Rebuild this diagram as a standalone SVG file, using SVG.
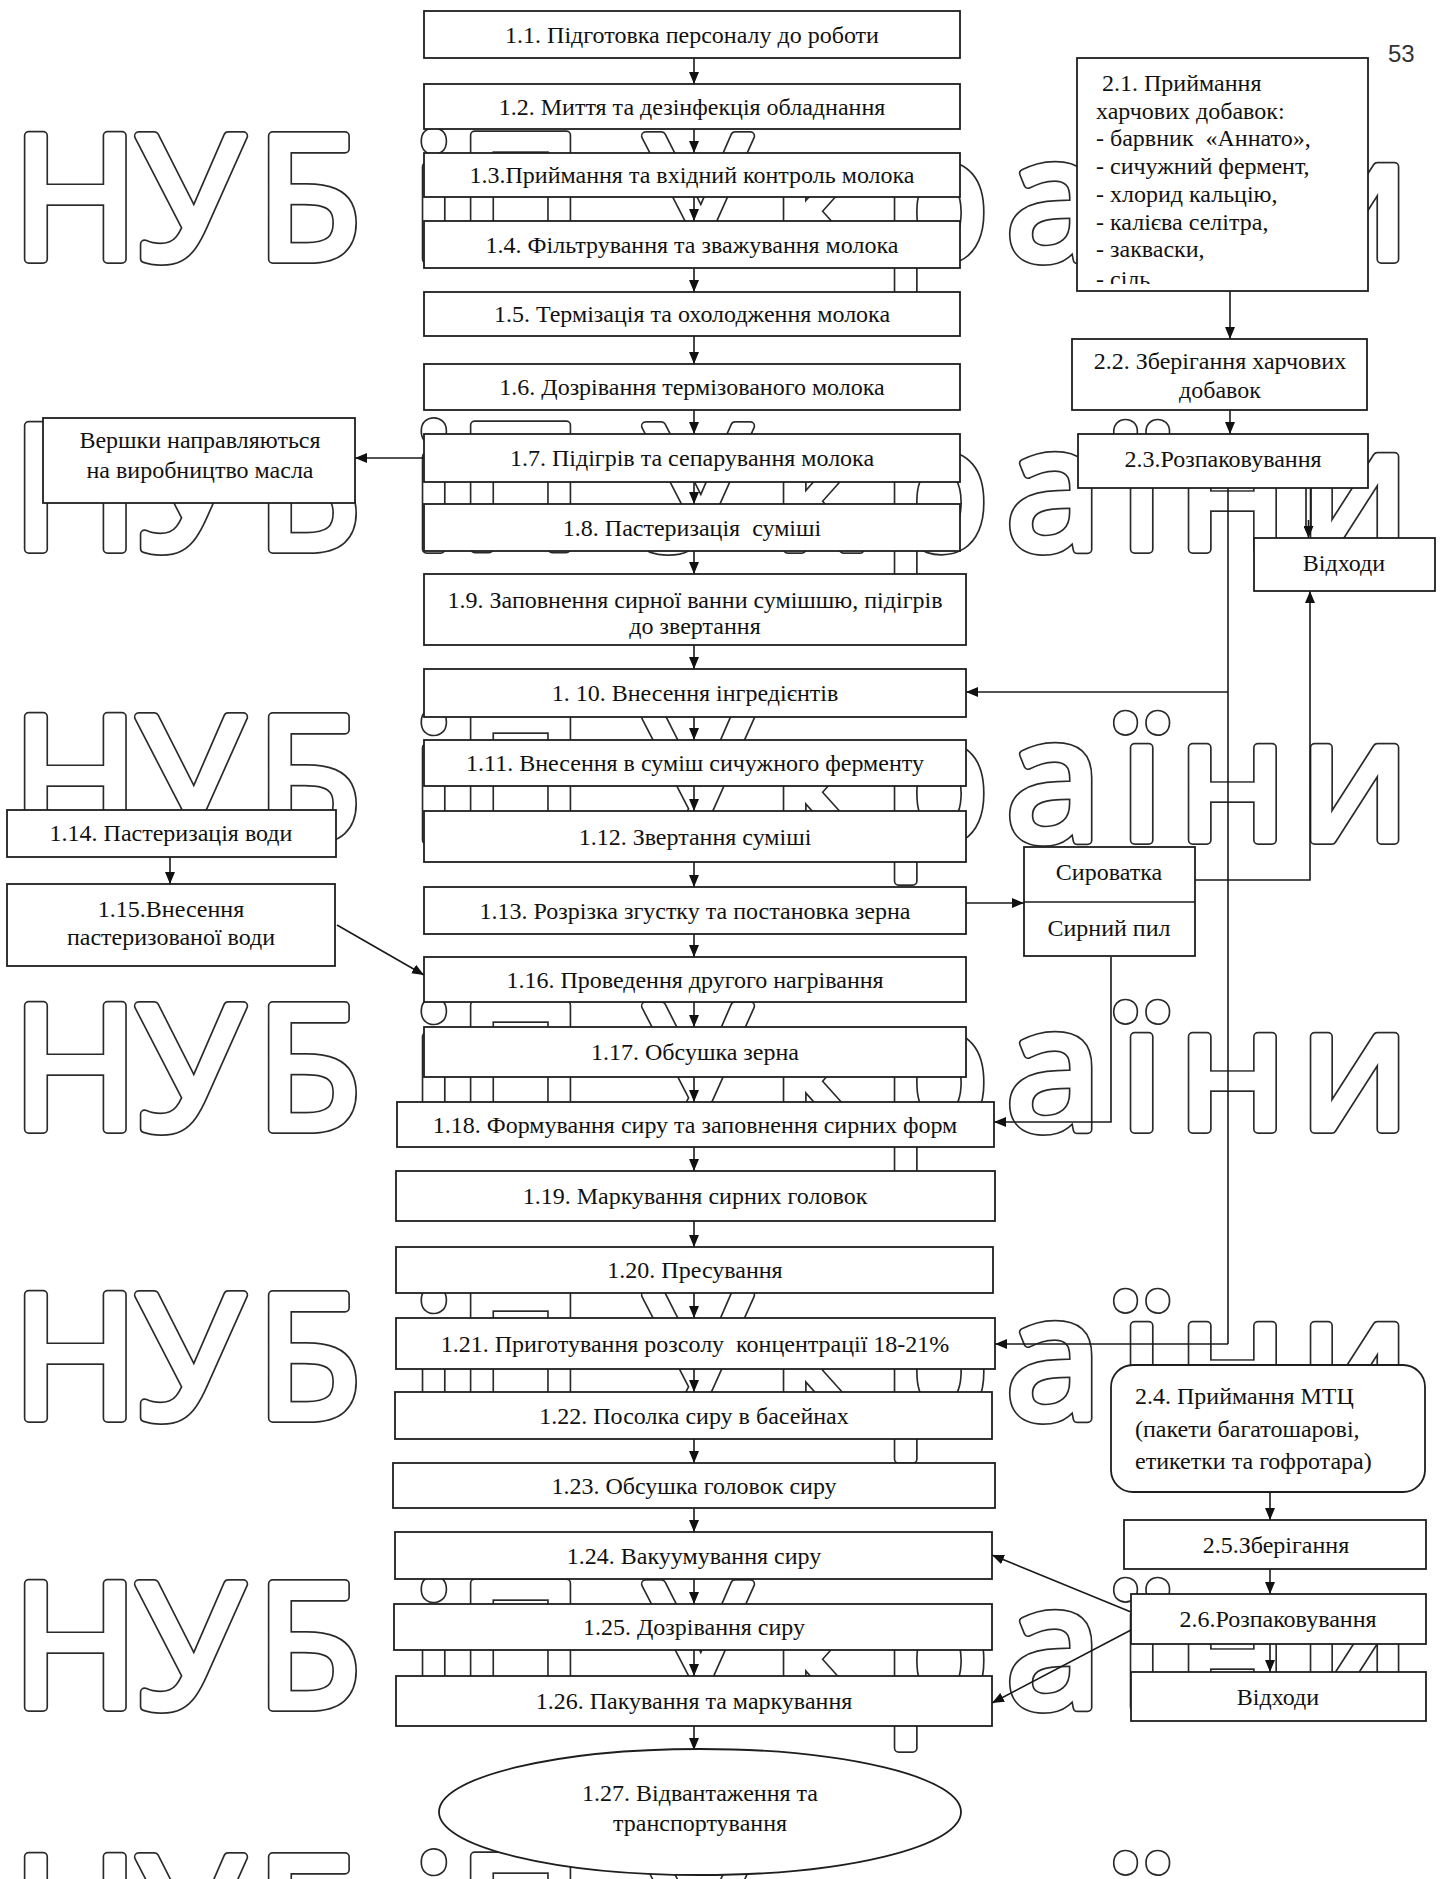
<svg xmlns="http://www.w3.org/2000/svg" width="1445" height="1879" viewBox="0 0 1445 1879">
<style>
.wm{font-family:"Open Sans","Noto Sans",sans-serif;font-weight:normal;font-size:172px}
.wmd{fill:#2a2a2a;stroke:#2a2a2a;stroke-width:10;stroke-linejoin:round}
.wmw{fill:#fff;stroke:#fff;stroke-width:6.6;stroke-linejoin:round}
.b{fill:#fff;stroke:#1e1e1e;stroke-width:1.8}
.t{font-family:"Liberation Serif","Times New Roman",serif;font-size:24px;fill:#111;text-anchor:middle}
.tl{font-family:"Liberation Serif","Times New Roman",serif;font-size:24px;fill:#111}
.c{stroke:#1a1a1a;stroke-width:1.6;fill:none}
.a{stroke:#1a1a1a;stroke-width:1.6;fill:none;marker-end:url(#ah)}
</style>
<defs>
<marker id="ah" markerWidth="12" markerHeight="10" refX="12" refY="5" orient="auto" markerUnits="userSpaceOnUse"><path d="M0,0 L12,5 L0,10 z" fill="#111"/></marker>
<clipPath id="clip21"><rect x="1077" y="58" width="291" height="226"/></clipPath>
</defs>
<rect width="1445" height="1879" fill="#fff"/>
<g id="watermark">
<g class="wmd"><g id="wmrows">
<text class="wm" x="12 137 256 412 458 600 644 773 884 1006 1120 1178 1300" y="259">НУБіП України</text>
<text class="wm" x="12 137 256 412 458 600 644 773 884 1006 1120 1178 1300" y="549">НУБіП України</text>
<text class="wm" x="12 137 256 412 458 600 644 773 884 1006 1120 1178 1300" y="840">НУБіП України</text>
<text class="wm" x="12 137 256 412 458 600 644 773 884 1006 1120 1178 1300" y="1129">НУБіП України</text>
<text class="wm" x="12 137 256 412 458 600 644 773 884 1006 1120 1178 1300" y="1418">НУБіП України</text>
<text class="wm" x="12 137 256 412 458 600 644 773 884 1006 1120 1178 1300" y="1707">НУБіП України</text>
<text class="wm" x="12 137 256 412 458 600 644 773 884 1006 1120 1178 1300" y="1980">НУБіП України</text>
</g></g>
<use href="#wmrows" class="wmw"/>
</g>
<text x="1388" y="62" font-family="'Liberation Sans',Arial,sans-serif" font-size="24" fill="#333">53</text>
<g id="connectors">
<line class="a" x1="694" y1="58" x2="694" y2="84"/>
<line class="a" x1="694" y1="129" x2="694" y2="153"/>
<line class="a" x1="694" y1="197" x2="694" y2="221"/>
<line class="a" x1="694" y1="268" x2="694" y2="292"/>
<line class="a" x1="694" y1="336" x2="694" y2="364"/>
<line class="a" x1="694" y1="410" x2="694" y2="434"/>
<line class="a" x1="694" y1="482" x2="694" y2="504"/>
<line class="a" x1="694" y1="551" x2="694" y2="574"/>
<line class="a" x1="694" y1="645" x2="694" y2="669"/>
<line class="a" x1="694" y1="717" x2="694" y2="740"/>
<line class="a" x1="694" y1="786" x2="694" y2="811"/>
<line class="a" x1="694" y1="862" x2="694" y2="887"/>
<line class="a" x1="694" y1="934" x2="694" y2="957"/>
<line class="a" x1="694" y1="1002" x2="694" y2="1027"/>
<line class="a" x1="694" y1="1077" x2="694" y2="1102"/>
<line class="a" x1="694" y1="1147" x2="694" y2="1171"/>
<line class="a" x1="694" y1="1221" x2="694" y2="1247"/>
<line class="a" x1="694" y1="1293" x2="694" y2="1318"/>
<line class="a" x1="694" y1="1369" x2="694" y2="1392"/>
<line class="a" x1="694" y1="1439" x2="694" y2="1463"/>
<line class="a" x1="694" y1="1508" x2="694" y2="1532"/>
<line class="a" x1="694" y1="1579" x2="694" y2="1604"/>
<line class="a" x1="694" y1="1650" x2="694" y2="1676"/>
<line class="a" x1="694" y1="1726" x2="694" y2="1750"/>
<line class="a" x1="424" y1="458" x2="355" y2="458"/>
<line class="a" x1="170" y1="857" x2="170" y2="884"/>
<line class="a" x1="337" y1="925" x2="424" y2="975"/>
<line class="a" x1="1230" y1="291" x2="1230" y2="339"/>
<line class="a" x1="1230" y1="410" x2="1230" y2="434"/>
<line class="c" x1="1306" y1="488" x2="1306" y2="530"/>
<line class="c" x1="1311" y1="488" x2="1311" y2="530"/>
<line class="a" x1="1308.5" y1="520" x2="1308.5" y2="538"/>
<polyline class="c" points="1228,488 1228,1344"/>
<line class="a" x1="1228" y1="692" x2="966" y2="692"/>
<line class="a" x1="1228" y1="1344" x2="995" y2="1344"/>
<line class="a" x1="966" y1="903" x2="1024" y2="903"/>
<polyline class="a" points="1193,880 1310,880 1310,591"/>
<polyline class="a" points="1111,957 1111,1122 994,1122"/>
<line class="a" x1="1270" y1="1492" x2="1270" y2="1520"/>
<line class="a" x1="1270" y1="1569" x2="1270" y2="1594"/>
<line class="a" x1="1270" y1="1644" x2="1270" y2="1672"/>
<line class="a" x1="1131" y1="1612" x2="992" y2="1555"/>
<line class="a" x1="1131" y1="1630" x2="992" y2="1703"/>
</g>
<g id="n1_1"><rect class="b" x="424" y="11" width="536" height="47"/><text class="t" x="692" y="42.5">1.1. Підготовка персоналу до роботи</text></g>
<g id="n1_2"><rect class="b" x="424" y="84" width="536" height="45"/><text class="t" x="692" y="114.5">1.2. Миття та дезінфекція обладнання</text></g>
<g id="n1_3"><rect class="b" x="424" y="153" width="536" height="44"/><text class="t" x="692" y="183">1.3.Приймання та вхідний контроль молока</text></g>
<g id="n1_4"><rect class="b" x="424" y="221" width="536" height="47"/><text class="t" x="692" y="252.5">1.4. Фільтрування та зважування молока</text></g>
<g id="n1_5"><rect class="b" x="424" y="292" width="536" height="44"/><text class="t" x="692" y="322">1.5. Термізація та охолодження молока</text></g>
<g id="n1_6"><rect class="b" x="424" y="364" width="536" height="46"/><text class="t" x="692" y="395">1.6. Дозрівання термізованого молока</text></g>
<g id="n1_7"><rect class="b" x="424" y="434" width="536" height="48"/><text class="t" x="692" y="466">1.7. Підігрів та сепарування молока</text></g>
<g id="n1_8"><rect class="b" x="424" y="504" width="536" height="47"/><text class="t" x="692" y="535.5">1.8. Пастеризація &#160;суміші</text></g>
<g id="n1_9"><rect class="b" x="424" y="574" width="542" height="71"/><text class="t" x="695" y="608">1.9. Заповнення сирної ванни сумішшю, підігрів</text><text class="t" x="695" y="634">до звертання</text></g>
<g id="n1_10"><rect class="b" x="424" y="669" width="542" height="48"/><text class="t" x="695" y="701">1. 10. Внесення інгредієнтів</text></g>
<g id="n1_11"><rect class="b" x="424" y="740" width="542" height="46"/><text class="t" x="695" y="771">1.11. Внесення в суміш сичужного ферменту</text></g>
<g id="n1_12"><rect class="b" x="424" y="811" width="542" height="51"/><text class="t" x="695" y="844.5">1.12. Звертання суміші</text></g>
<g id="n1_13"><rect class="b" x="424" y="887" width="542" height="47"/><text class="t" x="695" y="918.5">1.13. Розрізка згустку та постановка зерна</text></g>
<g id="n1_16"><rect class="b" x="424" y="957" width="542" height="45"/><text class="t" x="695" y="987.5">1.16. Проведення другого нагрівання</text></g>
<g id="n1_17"><rect class="b" x="424" y="1027" width="542" height="50"/><text class="t" x="695" y="1060">1.17. Обсушка зерна</text></g>
<g id="n1_18"><rect class="b" x="397" y="1102" width="597" height="45"/><text class="t" x="695" y="1132.5">1.18. Формування сиру та заповнення сирних форм</text></g>
<g id="n1_19"><rect class="b" x="396" y="1171" width="599" height="50"/><text class="t" x="695" y="1204">1.19. Маркування сирних головок</text></g>
<g id="n1_20"><rect class="b" x="396" y="1247" width="597" height="46"/><text class="t" x="695" y="1278">1.20. Пресування</text></g>
<g id="n1_21"><rect class="b" x="396" y="1318" width="599" height="51"/><text class="t" x="695" y="1351.5">1.21. Приготування розсолу &#160;концентрації 18-21%</text></g>
<g id="n1_22"><rect class="b" x="395" y="1392" width="597" height="47"/><text class="t" x="694" y="1423.5">1.22. Посолка сиру в басейнах</text></g>
<g id="n1_23"><rect class="b" x="393" y="1463" width="602" height="45"/><text class="t" x="694" y="1493.5">1.23. Обсушка головок сиру</text></g>
<g id="n1_24"><rect class="b" x="395" y="1532" width="597" height="47"/><text class="t" x="694" y="1563.5">1.24. Вакуумування сиру</text></g>
<g id="n1_25"><rect class="b" x="394" y="1604" width="598" height="46"/><text class="t" x="694" y="1635">1.25. Дозрівання сиру</text></g>
<g id="n1_26"><rect class="b" x="396" y="1676" width="596" height="50"/><text class="t" x="694" y="1709">1.26. Пакування та маркування</text></g>
<g id="n1_27"><ellipse class="b" cx="700" cy="1812" rx="261" ry="63"/><text class="t" x="700" y="1801">1.27. Відвантаження та</text><text class="t" x="700" y="1831">транспортування</text></g>
<g id="n_vershky"><rect class="b" x="43" y="418" width="312" height="85"/><text class="t" x="200" y="448">Вершки направляються</text><text class="t" x="200" y="478">на виробництво масла</text></g>
<g id="n1_14"><rect class="b" x="7" y="810" width="329" height="47"/><text class="t" x="171" y="841">1.14. Пастеризація води</text></g>
<g id="n1_15"><rect class="b" x="7" y="884" width="328" height="82"/><text class="t" x="171" y="917">1.15.Внесення</text><text class="t" x="171" y="945">пастеризованої води</text></g>
<g id="n2_1"><rect class="b" x="1077" y="58" width="291" height="233"/><g clip-path="url(#clip21)"><text class="tl" x="1096" y="91">&#160;2.1. Приймання</text><text class="tl" x="1096" y="119">харчових добавок:</text><text class="tl" x="1096" y="146">- барвник &#160;«Аннато»,</text><text class="tl" x="1096" y="174">- сичужний фермент,</text><text class="tl" x="1096" y="202">- хлорид кальцію,</text><text class="tl" x="1096" y="230">- калієва селітра,</text><text class="tl" x="1096" y="257">- закваски,</text><text class="tl" x="1096" y="287">- сіль</text></g></g>
<g id="n2_2"><rect class="b" x="1072" y="339" width="295" height="71"/><text class="t" x="1220" y="369">2.2. Зберігання харчових</text><text class="t" x="1220" y="398">добавок</text></g>
<g id="n2_3"><rect class="b" x="1078" y="434" width="290" height="54"/><text class="t" x="1223" y="467">2.3.Розпаковування</text></g>
<g id="n_vidhody1"><rect class="b" x="1254" y="538" width="181" height="53"/><text class="t" x="1344" y="571">Відходи</text></g>
<g id="n_syrovatka"><rect class="b" x="1024" y="847" width="171" height="109"/><line class="c" x1="1024" y1="902" x2="1195" y2="902"/><text class="t" x="1109" y="880">Сироватка</text><text class="t" x="1109" y="936">Сирний пил</text></g>
<g id="n2_4"><rect class="b" x="1111" y="1365" width="314" height="127" rx="22" ry="22"/><text class="tl" x="1135" y="1404">2.4. Приймання МТЦ</text><text class="tl" x="1135" y="1437">(пакети багатошарові,</text><text class="tl" x="1135" y="1469">етикетки та гофротара)</text></g>
<g id="n2_5"><rect class="b" x="1124" y="1520" width="302" height="49"/><text class="t" x="1276" y="1553">2.5.Зберігання</text></g>
<g id="n2_6"><rect class="b" x="1131" y="1594" width="295" height="50"/><text class="t" x="1278" y="1627">2.6.Розпаковування</text></g>
<g id="n_vidhody2"><rect class="b" x="1131" y="1672" width="295" height="49"/><text class="t" x="1278" y="1705">Відходи</text></g>
</svg>
